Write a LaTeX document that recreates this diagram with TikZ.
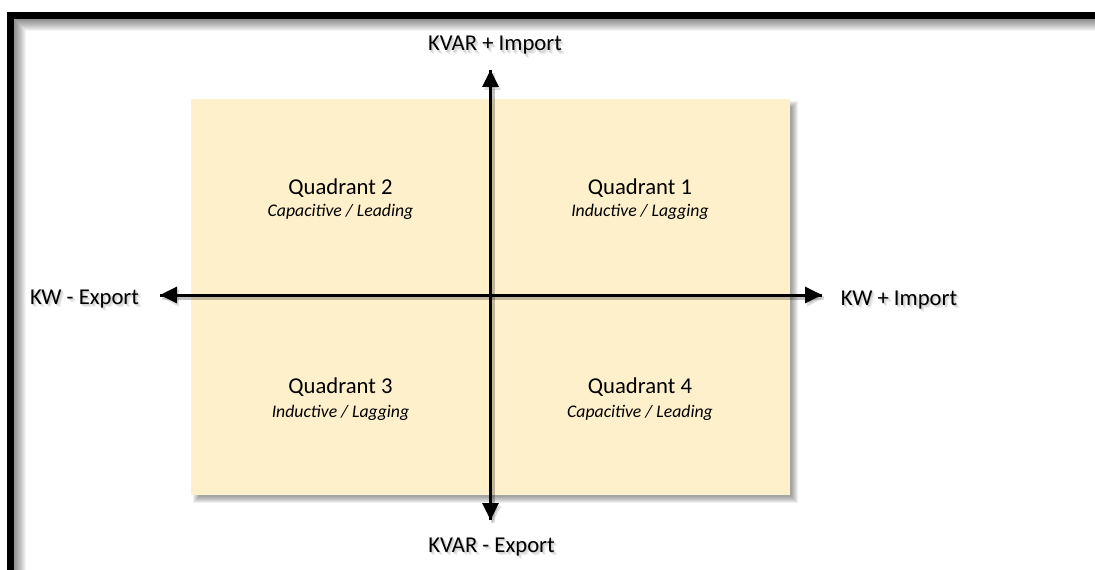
\documentclass[tikz,border=0pt]{standalone}
\usepackage{fontspec}
\setmainfont{Carlito}
\usetikzlibrary{arrows.meta}
\definecolor{quadfill}{HTML}{FFF0CC}
% text with a soft offset shadow behind it
\newcommand\shcopy[4]{\rlap{\kern#1\raisebox{-#2}{\color{black!#3}#4}}}
\newcommand\shtext[1]{\leavevmode
  \shcopy{2.2pt}{2.6pt}{8}{#1}\shcopy{1.5pt}{1.8pt}{12}{#1}\shcopy{0.9pt}{1.1pt}{17}{#1}#1}
\tikzset{
  axis/.style={line width=2.25pt, -{Triangle[length=12.75pt,width=12pt]}},
  axisshadow/.style={axis, black, opacity=0.13, line width=3pt},
  lbl/.style={font=\fontsize{17}{20}\selectfont, inner sep=0pt, anchor=base},
  sublbl/.style={font=\fontsize{13.3}{16}\selectfont\itshape, inner sep=0pt, anchor=base},
  field/.style={fill=quadfill, draw=none, inner sep=0pt,
    minimum width=449.25pt, minimum height=297pt},
}
\begin{document}
\begin{tikzpicture}[x=0.75pt,y=-0.75pt]
\useasboundingbox (0,0) rectangle (1095,570);
\clip (0,0) rectangle (1095,570);
\fill[white] (0,0) rectangle (1095,570);

% inner shadow of the frame
\begin{scope}
  \clip (14,19) rectangle (1095,570);
  \foreach \k in {1,...,12}
    \draw[black, opacity=0.045, line width={5.25pt+1.5pt*\k}] (10.5,15.5) rectangle (1300,800);
\end{scope}
% frame
\draw[black, line width=5.25pt] (10.5,15.5) rectangle (1300,800);

% blurred shadow of the quadrant field
\foreach \k in {0,...,6}
  \fill[black, opacity=0.06] (193+\k,101+\k) rectangle (798-\k,503-\k);
\node[field] (field) at (490.5,297) {};

% axis end points
\coordinate (ytop) at (490.5,70);
\coordinate (ybot) at (490.5,520);
\coordinate (xleft) at (160,295);
\coordinate (xright) at (822,295);

% axis shadows
\draw[axisshadow] ([shift={(2,3)}]ybot) -- ([shift={(2,3)}]ytop);
\draw[axisshadow] ([shift={(2,3)}]ytop) -- ([shift={(2,3)}]ybot);
\draw[axisshadow] ([shift={(2,3)}]xleft) -- ([shift={(2,3)}]xright);
\draw[axisshadow] ([shift={(2,3)}]xright) -- ([shift={(2,3)}]xleft);
% axes
\draw[axis] (ybot) -- (ytop);
\draw[axis] (ytop) -- (ybot);
\draw[axis] (xleft) -- (xright);
\draw[axis] (xright) -- (xleft);

% axis labels
\node[lbl] (kvarimp) at (495,51) {\shtext{KVAR + Import}};
\node[lbl] (kvarexp) at (491.5,552) {\shtext{KVAR - Export}};
\node[lbl] (kwexp) at (84.5,304) {\shtext{KW - Export}};
\node[lbl] (kwimp) at (899,305) {\shtext{KW + Import}};

% quadrant labels
\node[lbl] (q2) at (340.5,195) {Quadrant 2};
\node[sublbl] (q2s) at (340.5,217) {Capacitive / Leading};
\node[lbl] (q1) at (640,195) {Quadrant 1};
\node[sublbl] (q1s) at (640,217) {Inductive / Lagging};
\node[lbl] (q3) at (340.5,393) {Quadrant 3};
\node[sublbl] (q3s) at (340.5,417) {Inductive / Lagging};
\node[lbl] (q4) at (640,393) {Quadrant 4};
\node[sublbl] (q4s) at (640,417) {Capacitive / Leading};
\end{tikzpicture}
\end{document}
